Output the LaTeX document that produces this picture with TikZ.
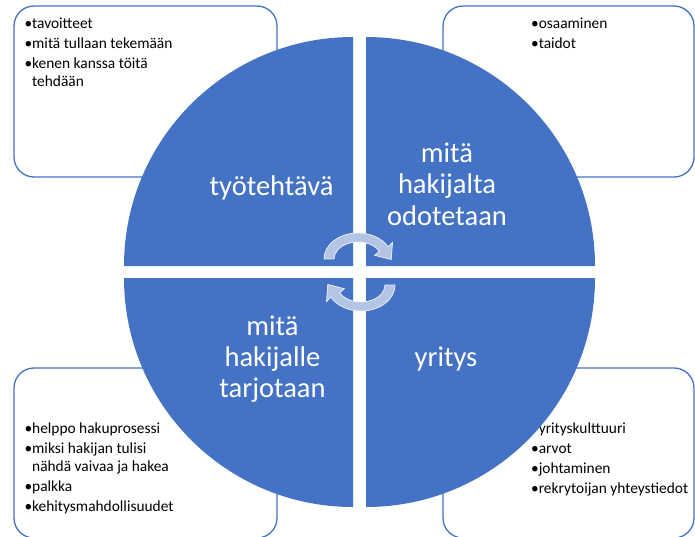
\documentclass[tikz,border=0pt]{standalone}
\usepackage{fontspec}
\setmainfont{Carlito}
\definecolor{qblue}{RGB}{68,114,196}
\definecolor{arrowfill}{RGB}{180,196,228}
\begin{document}
\begin{tikzpicture}[x=1pt, y=-1pt,
  infobox/.style={draw=qblue, line width=1.3pt, rounded corners=20pt, fill=white},
  item/.style={anchor=base west, inner sep=0pt, font=\fontsize{15.4}{18}\selectfont},
  big/.style={anchor=base, inner sep=0pt, text=white, font=\fontsize{28.5}{32}\selectfont},
  quad/.style={fill=qblue},
  carrow/.style={fill=arrowfill, draw=white!70!arrowfill, line width=0.8pt}]
\useasboundingbox (0,0) rectangle (695,536);
\fill[white] (0,0) rectangle (695,536);

% background boxes
\draw[infobox] (14,6) rectangle (277,177);
\draw[infobox] (443,6) rectangle (694,177);
\draw[infobox] (14,368) rectangle (277,538);
\draw[infobox] (443,368) rectangle (694,538);

% box texts
\node[item] (a1) at (24.3,28) {•tavoitteet};
\node[item] (a2) at (24.3,48) {•mitä tullaan tekemään};
\node[item] (a3) at (24.3,68) {•kenen kanssa töitä};
\node[item] (a4) at (32,86) {tehdään};

\node[item] (b1) at (530.9,28) {•osaaminen};
\node[item] (b2) at (530.9,48) {•taidot};

\node[item] (c1) at (24.3,433) {•helppo hakuprosessi};
\node[item] (c2) at (24.3,453) {•miksi hakijan tulisi};
\node[item] (c3) at (32,471) {nähdä vaivaa ja hakea};
\node[item] (c4) at (24.3,491) {•palkka};
\node[item] (c5) at (24.3,511) {•kehitysmahdollisuudet};

\node[item] (d1) at (530.9,433) {•yrityskulttuuri};
\node[item] (d2) at (530.9,453) {•arvot};
\node[item] (d3) at (530.9,473) {•johtaminen};
\node[item] (d4) at (530.9,493) {•rekrytoijan yhteystiedot};

% quadrants
\fill[quad] (353,266) -- (124,266) arc[start angle=180, end angle=270, radius=229] -- cycle;
\fill[quad] (366,266) -- (366,37) arc[start angle=270, end angle=360, radius=229] -- cycle;
\fill[quad] (366,278) -- (595,278) arc[start angle=0, end angle=90, radius=229] -- cycle;
\fill[quad] (353,278) -- (353,507) arc[start angle=90, end angle=180, radius=229] -- cycle;

% quadrant labels
\node[big] (q1) at (271.5,195) {työtehtävä};
\node[big] (q2a) at (447,162) {mitä};
\node[big] (q2b) at (447,193.5) {hakijalta};
\node[big] (q2c) at (447,225.5) {odotetaan};
\node[big] (q3a) at (272.5,335) {mitä};
\node[big] (q3b) at (272.5,366) {hakijalle};
\node[big] (q3c) at (272.5,397) {tarjotaan};
\node[big] (q4) at (446,366.5) {yritys};

% circular arrows
\path[carrow] (324,259) arc[start angle=180, end angle=332, x radius=34, y radius=26]
  -- (392.5,242.5) -- (391.2,259.5) -- (374.7,255.3) -- (379.2,251.0)
  arc[start angle=332, end angle=180, x radius=24, y radius=17] -- cycle;
\begin{scope}[rotate around={180:(359.5,272)}]
\path[carrow] (324,259) arc[start angle=180, end angle=332, x radius=34, y radius=26]
  -- (392.5,242.5) -- (391.2,259.5) -- (374.7,255.3) -- (379.2,251.0)
  arc[start angle=332, end angle=180, x radius=24, y radius=17] -- cycle;
\end{scope}
\end{tikzpicture}
\end{document}
